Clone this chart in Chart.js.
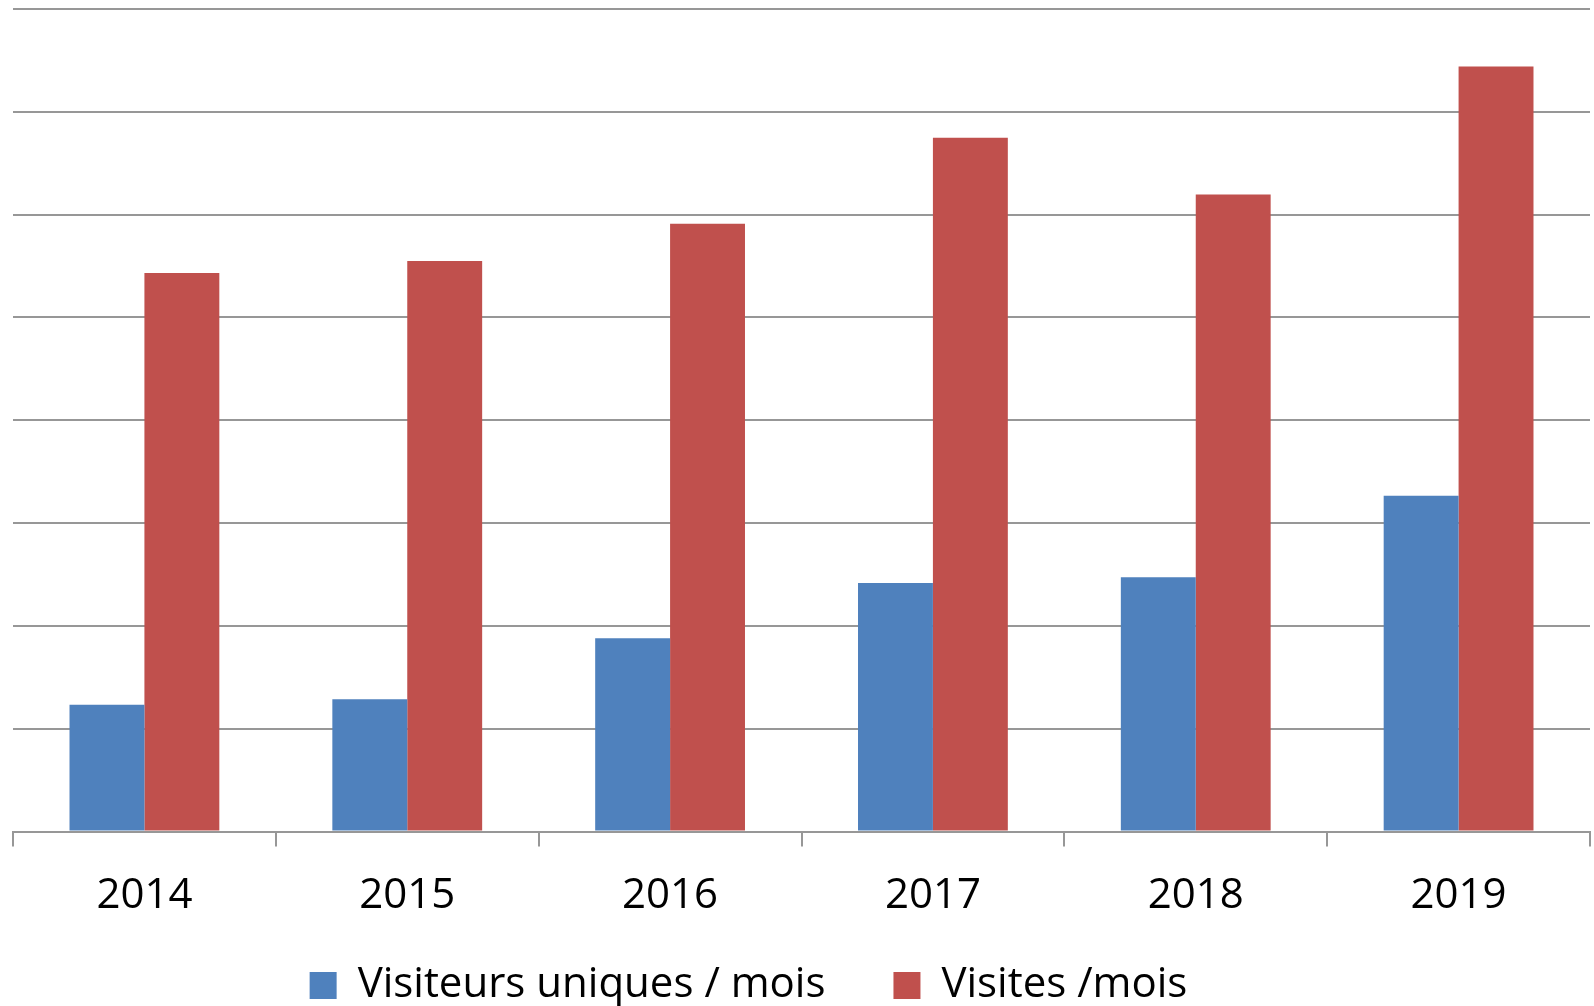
<!DOCTYPE html>
<html>
<head>
<meta charset="utf-8">
<script src="https://cdn.jsdelivr.net/npm/chart.js@4"></script>
<style>
  html, body { margin: 0; padding: 0; background: #ffffff; }
  #wrap { width: 1594px; height: 1006px; position: relative; }
</style>
</head>
<body>
<div id="wrap"><canvas id="c"></canvas></div>
<script>
const categories = ['2014', '2015', '2016', '2017', '2018', '2019'];
const visiteursUniques = [1.234, 1.287, 1.880, 2.418, 2.473, 3.265];
const visites = [5.433, 5.549, 5.912, 6.747, 6.195, 7.440];
const seriesNames = ['Visiteurs uniques / mois', 'Visites /mois'];

const gridGray = '#979797';
const fontFamily = '"Open Sans", "Liberation Sans", sans-serif';

// nudges the legend block (layout only); bottom stays past the canvas edge
const legendShift = {
  id: 'legendShift',
  afterLayout(chart) {
    const lg = chart.legend;
    if (!lg) return;
    lg.left -= 53; lg.right -= 53;
    lg.top -= 35;
    lg.bottom = chart.height + 40;
  }
};

new Chart(document.getElementById('c'), {
  type: 'bar',
  data: {
    labels: categories,
    datasets: [
      { label: seriesNames[0], data: visiteursUniques, backgroundColor: '#4F81BD', borderWidth: 0 },
      { label: seriesNames[1], data: visites, backgroundColor: '#C0504D', borderWidth: 0 }
    ]
  },
  plugins: [legendShift],
  options: {
    responsive: true,
    maintainAspectRatio: false,
    animation: false,
    layout: { padding: { left: 13, right: 4, top: 9, bottom: 0 } },
    datasets: { bar: { categoryPercentage: 0.57, barPercentage: 1.0 } },
    plugins: {
      tooltip: { enabled: false },
      legend: {
        position: 'bottom',
        maxHeight: 74.5,
        labels: {
          boxWidth: 27,
          boxHeight: 27,
          padding: 68,
          color: '#000000',
          font: { family: fontFamily, size: 42 }
        }
      }
    },
    scales: {
      x: {
        offset: true,
        grid: { display: true, drawOnChartArea: false, drawTicks: true, tickLength: 15, color: gridGray, lineWidth: 2, offset: true },
        border: { display: true, color: gridGray, width: 2 },
        ticks: { color: '#000000', font: { family: fontFamily, size: 42 }, padding: 24, maxRotation: 0 },
        afterFit: (s) => { s.height = 100; }
      },
      y: {
        min: 0,
        max: 8,
        ticks: { display: false, stepSize: 1 },
        grid: { color: gridGray, lineWidth: 2, drawTicks: false },
        border: { display: false },
        afterFit: (s) => { s.width = 0; }
      }
    }
  }
});
</script>
</body>
</html>
